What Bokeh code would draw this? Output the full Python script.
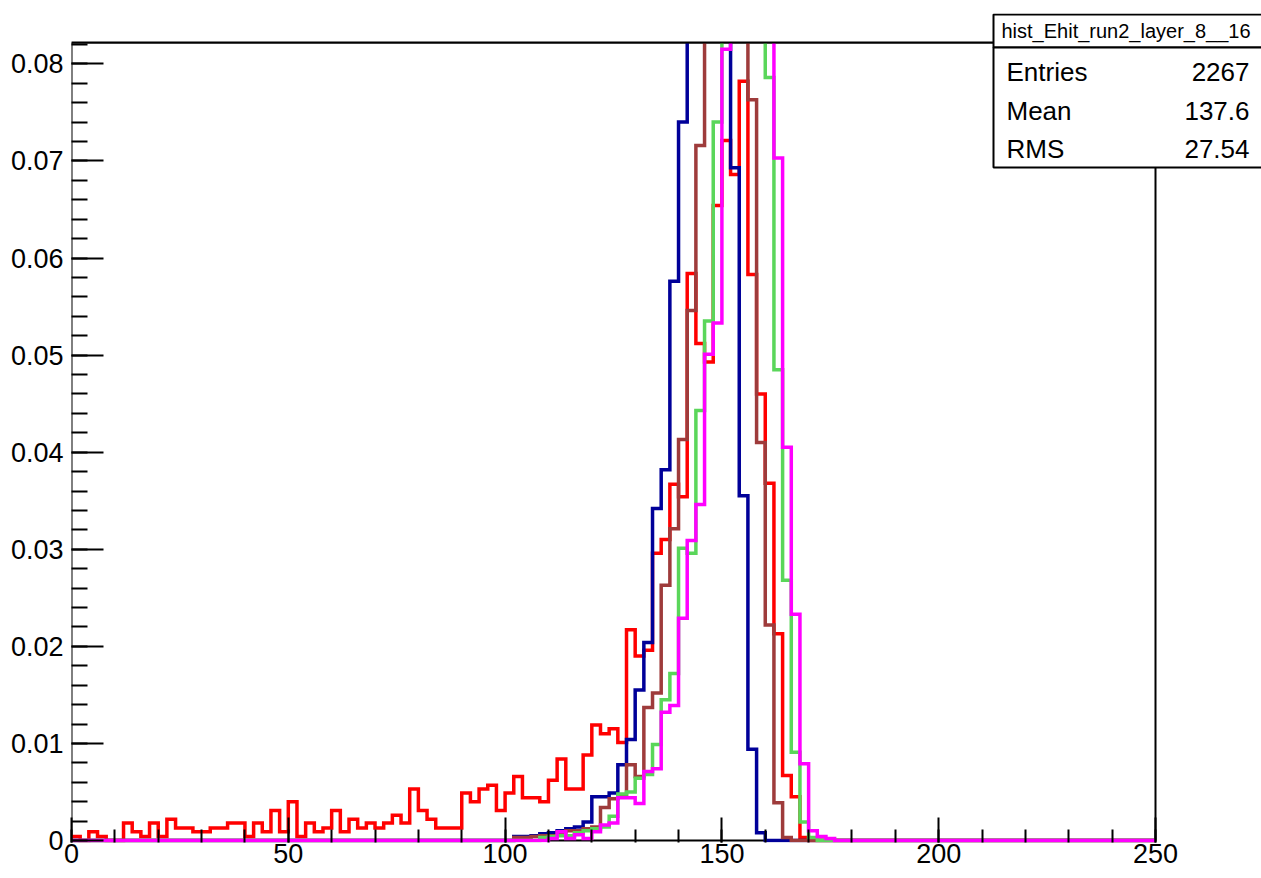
from bokeh.plotting import figure
from bokeh.models import FixedTicker, CustomJSTickFormatter, Range1d, BoxAnnotation, Label
from bokeh.embed import file_html
from bokeh.resources import INLINE

# ---------------- data (bin width 2, range 0..250) ----------------
bin_width = 2
x_lo, x_hi = 0, 250
y_hi = 0.0822

x_major = [0, 50, 100, 150, 200, 250]
x_minor = list(range(0, 251, 10))
y_major = [0, 0.01, 0.02, 0.03, 0.04, 0.05, 0.06, 0.07, 0.08]
y_minor = [i * 0.002 for i in range(42)]

hist_title = "hist_Ehit_run2_layer_8__16"
stat_names = ["Entries", "Mean", "RMS"]
stat_values = ["2267", "137.6", "27.54"]

# red: bins starting at x = 0
red_start = 0
red = [0.0004, 0.0, 0.0009, 0.0004, 0.0, 0.0, 0.0018, 0.0009, 0.0004, 0.0018,
       0.0004, 0.0022, 0.0013, 0.0013, 0.0009, 0.0009, 0.0013, 0.0013, 0.0018, 0.0018,
       0.0004, 0.0018, 0.0009, 0.0031, 0.0009, 0.0040, 0.0004, 0.0018, 0.0009, 0.0013,
       0.0031, 0.0009, 0.0022, 0.0013, 0.0018, 0.0013, 0.0018, 0.0026, 0.0018, 0.0053,
       0.0031, 0.0022, 0.0013, 0.0013, 0.0013, 0.0049, 0.0040, 0.0053, 0.0057, 0.0031,
       0.0049, 0.0066, 0.0044, 0.0044, 0.0040, 0.0062, 0.0084, 0.0053, 0.0053, 0.0088,
       0.0119, 0.0110, 0.0115, 0.0101, 0.0217, 0.0190, 0.0196, 0.0296, 0.0310, 0.0367,
       0.0354, 0.0584, 0.0512, 0.0493, 0.0654, 0.0721, 0.0686, 0.0782, 0.0583, 0.0460,
       0.0368, 0.0213, 0.0067, 0.0045, 0.0003]

# other series: bins starting at x = 100
blue_start = 100
blue = [0.0, 0.0004, 0.0004, 0.0005, 0.0007, 0.0008, 0.0010, 0.0012, 0.0014, 0.0019,
        0.0045, 0.0045, 0.0049, 0.0078, 0.0104, 0.0155, 0.0204, 0.0342, 0.0382, 0.0576,
        0.0740, 0.098, 0.130, 0.145, 0.132, 0.100, 0.0693, 0.0355, 0.0094, 0.0008]

brown_start = 100
brown = [0.0, 0.0003, 0.0003, 0.0004, 0.0005, 0.0005, 0.0008, 0.0010, 0.0010, 0.0012,
         0.0014, 0.0034, 0.0043, 0.0045, 0.0078, 0.0066, 0.0137, 0.0152, 0.0263, 0.0321,
         0.0413, 0.0546, 0.0716, 0.088, 0.112, 0.128, 0.130, 0.1095, 0.0763, 0.0410,
         0.0222, 0.0039, 0.0003]

green_start = 100
green = [0.0, 0.0, 0.0, 0.0, 0.0003, 0.0004, 0.0005, 0.0005, 0.0008, 0.0010,
         0.0012, 0.0014, 0.0025, 0.0048, 0.0050, 0.0064, 0.0068, 0.0099, 0.0145, 0.0172,
         0.0301, 0.0296, 0.0443, 0.0535, 0.0740, 0.092, 0.110, 0.118, 0.115, 0.095,
         0.0786, 0.0485, 0.0268, 0.0091, 0.0019, 0.0003]

magenta_start = 100
magenta = [0.0, 0.0, 0.0, 0.0, 0.0, 0.0002, 0.0009, 0.0002, 0.0006, 0.0002,
           0.0009, 0.0016, 0.0018, 0.0044, 0.0044, 0.0038, 0.0071, 0.0074, 0.0132, 0.0139,
           0.0229, 0.0309, 0.0346, 0.0501, 0.0533, 0.0815, 0.098, 0.112, 0.115, 0.108,
           0.0898, 0.0703, 0.0405, 0.0233, 0.0079, 0.0010, 0.0004, 0.0002]

series = [
    (red_start, red, "#ff0000"),
    (blue_start, blue, "#000099"),
    (brown_start, brown, "#9e3b3b"),
    (green_start, green, "#5ad65a"),
    (magenta_start, magenta, "#ff00ff"),
]

# ---------------- layout (pixels) ----------------
W, H = 1261, 878
frame_left, frame_right = 71, 1155      # where x = 0 and x = 250 sit
frame_top, frame_bottom = 42, 840       # where y = y_hi and y = 0 sit
canvas_top = 13                         # stats box reaches up to here
pad_bottom = 2                          # room so the y = 0 lines are not cut in half
px_per_y = (frame_bottom - frame_top) / y_hi
# the plotting area is widened to the canvas edge so the stats box can be drawn
x_end = x_lo + (x_hi - x_lo) * (W - frame_left) / (frame_right - frame_left)
y_end = (frame_bottom - canvas_top) / px_per_y
y_start = -pad_bottom / px_per_y
y_cap = 0.5 * (y_hi + y_end)            # drawing limit, hidden by the mask below

FONT = "Liberation Sans"
p = figure(width=W, height=H, output_backend="svg", toolbar_location=None,
           x_range=Range1d(x_lo, x_end), y_range=Range1d(y_start, y_end),
           min_border_left=frame_left, min_border_right=0,
           min_border_top=canvas_top, min_border_bottom=H - frame_bottom - pad_bottom)
p.background_fill_color = "white"
p.border_fill_color = "white"
p.outline_line_color = None
p.xgrid.visible = False
p.ygrid.visible = False

# frame (under the histograms, like the ROOT axes)
p.quad(left=x_lo, right=x_hi, bottom=0, top=y_hi,
       fill_color=None, line_color="black", line_width=2)

n_bins = (x_hi - x_lo) // bin_width
edges = [x_lo + i * bin_width for i in range(n_bins + 1)]

for start, vals, col in series:
    full = [0.0] * n_bins
    off = (start - x_lo) // bin_width
    for i, v in enumerate(vals):
        full[off + i] = v
    shown = [min(v, y_cap) for v in full]
    ys = shown + [shown[-1]]
    p.step(edges, ys, mode="after", line_color=col, line_width=3.5, line_join="miter")

# hide everything that goes above the frame (as the frame clipping does in the original)
p.quad(left=x_lo - 10, right=x_end, bottom=y_hi, top=y_end * 1.1,
       fill_color="white", line_color=None)
# top edge of the frame drawn again over the clipped peaks
p.segment(x0=[x_lo], y0=[y_hi], x1=[x_hi], y1=[y_hi], line_color="black", line_width=2)

# axes
p.xaxis.ticker = FixedTicker(ticks=x_major, minor_ticks=x_minor)
p.yaxis.ticker = FixedTicker(ticks=y_major, minor_ticks=y_minor)
p.yaxis.formatter = CustomJSTickFormatter(code="return tick == 0 ? '0' : tick.toFixed(2);")
for ax in (p.xaxis[0], p.yaxis[0]):
    ax.axis_line_color = None
    ax.major_tick_line_color = "black"
    ax.minor_tick_line_color = "black"
    ax.major_tick_line_width = 2
    ax.minor_tick_line_width = 2
    ax.major_tick_out = 0
    ax.minor_tick_out = 0
    ax.major_label_text_font = FONT
    ax.major_label_text_font_size = "27px"
    ax.major_label_text_color = "black"
    ax.major_label_text_font_style = "normal"
p.xaxis.major_tick_in = 25
p.xaxis.minor_tick_in = 13
p.yaxis.major_tick_in = 32
p.yaxis.minor_tick_in = 16
p.xaxis.major_label_standoff = 1
p.yaxis.major_label_standoff = 8

# stats box
box_left, box_right = 993, W + 2
title_top, title_bottom, stats_bottom = canvas_top + 1, 47, 167
for top, bottom in ((title_top, title_bottom), (title_bottom, stats_bottom)):
    p.add_layout(BoxAnnotation(left=box_left, right=box_right, top=top, bottom=bottom,
                               left_units="canvas", right_units="canvas",
                               top_units="canvas", bottom_units="canvas",
                               fill_color="white", fill_alpha=1.0,
                               line_color="black", line_alpha=1.0, line_width=2))
p.add_layout(Label(x=1001, y=30, x_units="canvas", y_units="canvas", text=hist_title,
                   text_font=FONT, text_font_size="20px", text_color="black",
                   text_baseline="middle", text_align="left"))
row_y = [71, 110, 148]
for name, val, yy in zip(stat_names, stat_values, row_y):
    p.add_layout(Label(x=1006, y=yy, x_units="canvas", y_units="canvas", text=name,
                       text_font=FONT, text_font_size="26px", text_color="black",
                       text_baseline="middle", text_align="left"))
    p.add_layout(Label(x=1249, y=yy, x_units="canvas", y_units="canvas", text=val,
                       text_font=FONT, text_font_size="26px", text_color="black",
                       text_baseline="middle", text_align="right"))

open("out.html", "w").write(file_html(p, INLINE))
